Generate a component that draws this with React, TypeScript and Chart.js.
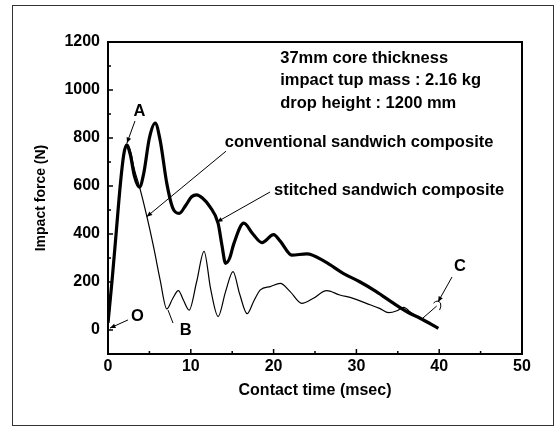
import React, { useEffect, useRef } from "react";
import { Chart, registerables } from "chart.js";

Chart.register(...registerables);

// ---- data ----
const xTickValues = [0, 10, 20, 30, 40, 50];
const xMinorTicks = [5, 15, 25, 35, 45];
const yTickValues = [0, 200, 400, 600, 800, 1000, 1200];
const yMinorTicks = [100, 300, 500, 700, 900, 1100];

const stitchedTime = [0, 0.5, 1.0, 1.5, 1.9, 2.25, 2.7, 3.2, 3.8, 4.3, 5.0, 5.7, 6.3, 7.1, 7.8, 8.6, 9.4, 10.1, 10.7, 11.4, 12.3, 13.3, 13.75, 14.2, 14.7, 15.2, 16.4, 17.5, 18.6, 20.0, 20.8, 22.2, 24.0, 26.2, 28.4, 30.4, 32.4, 34.5, 36.1, 37.7, 39.9];
const stitchedForce = [30, 210, 410, 610, 730, 771, 730, 640, 595, 650, 800, 862, 790, 611, 510, 486, 520, 555, 563, 550, 514, 444, 355, 278, 300, 360, 445, 400, 364, 397, 370, 312, 317, 285, 236, 201, 160, 111, 76, 49, 7];

const conventionalTime = [0, 0.5, 1.0, 1.5, 1.9, 2.35, 2.8, 3.1, 3.8, 4.7, 5.5, 6.3, 7.1, 7.8, 8.5, 9.1, 9.8, 10.7, 11.6, 12.4, 13.3, 14.2, 15.1, 15.9, 16.8, 17.6, 18.4, 19.6, 20.8, 22.0, 23.4, 24.8, 26.4, 28.0, 29.6, 31.2, 32.8, 33.9, 34.9, 35.7, 36.7, 37.7, 38.8];
const conventionalForce = [10, 200, 400, 600, 730, 771, 735, 681, 597, 472, 347, 208, 88, 130, 164, 125, 83, 200, 328, 170, 56, 160, 243, 150, 68, 120, 167, 181, 194, 160, 111, 132, 164, 146, 132, 111, 90, 72, 80, 94, 69, 49, 32];

const xTitle = "Contact time (msec)";
const yTitle = "Impact force (N)";
const infoLines = ["37mm core thickness", "impact tup mass : 2.16 kg", "drop height : 1200 mm"];

// ---- annotation layout (data coordinates) ----
const infoAnchor = { x: 20.8, y: 1133, step: 95 };
const textNotes = [
  { text: "conventional sandwich composite", x: 14.1, y: 783, align: "left" },
  { text: "stitched sandwich composite", x: 20.05, y: 583, align: "left" },
  { text: "A", x: 3.8, y: 912, align: "center" },
  { text: "O", x: 3.54, y: 55, align: "center" },
  { text: "B", x: 9.38, y: 0, align: "center" },
  { text: "C", x: 42.5, y: 264, align: "center" },
];
const arrowNotes = [
  { from: [14.25, 745], to: [4.67, 472], head: true },
  { from: [19.57, 575], to: [13.16, 450], head: true },
  { from: [3.26, 871], to: [2.29, 779], head: true },
  { from: [2.42, 42], to: [0.24, 8], head: true },
  { from: [7.85, 29], to: [7.25, 83], head: false },
  { from: [41.55, 221], to: [39.86, 117], head: true },
  { from: [39.7, 100], to: [38.04, 50], head: false },
];

const FONT = "'Liberation Sans', Arial, Helvetica, sans-serif";

function drawArrow(ctx: CanvasRenderingContext2D, x1: number, y1: number, x2: number, y2: number, head: boolean) {
  ctx.beginPath();
  ctx.moveTo(x1, y1);
  ctx.lineTo(x2, y2);
  ctx.stroke();
  if (head) {
    const ang = Math.atan2(y2 - y1, x2 - x1);
    const h = 6;
    ctx.beginPath();
    ctx.moveTo(x2, y2);
    ctx.lineTo(x2 - h * Math.cos(ang - 0.4), y2 - h * Math.sin(ang - 0.4));
    ctx.lineTo(x2 - h * Math.cos(ang + 0.4), y2 - h * Math.sin(ang + 0.4));
    ctx.closePath();
    ctx.fill();
  }
}

const decorPlugin = {
  id: "decor",
  afterDraw(chart: any) {
    const { ctx, chartArea: a, scales } = chart;
    const x = scales.x;
    const y = scales.y;
    const px = (v: number) => x.getPixelForValue(v);
    const py = (v: number) => y.getPixelForValue(v);
    ctx.save();
    // outer frame
    ctx.strokeStyle = "#333";
    ctx.lineWidth = 1;
    ctx.strokeRect(12.5, 5.5, 541, 420);
    // plot box
    ctx.strokeStyle = "#000";
    ctx.lineWidth = 2;
    ctx.strokeRect(a.left, a.top, a.right - a.left, a.bottom - a.top);
    // inward ticks
    ctx.lineWidth = 1.5;
    ctx.beginPath();
    for (const v of xTickValues) { ctx.moveTo(px(v), a.bottom); ctx.lineTo(px(v), a.bottom - 5); }
    for (const v of xMinorTicks) { ctx.moveTo(px(v), a.bottom); ctx.lineTo(px(v), a.bottom - 3); }
    for (const v of yTickValues) { ctx.moveTo(a.left, py(v)); ctx.lineTo(a.left + 5, py(v)); }
    for (const v of yMinorTicks) { ctx.moveTo(a.left, py(v)); ctx.lineTo(a.left + 3, py(v)); }
    ctx.stroke();
    // texts
    ctx.fillStyle = "#000";
    ctx.font = `bold 16.5px ${FONT}`;
    ctx.textBaseline = "middle";
    ctx.textAlign = "left";
    infoLines.forEach((t, i) => {
      ctx.fillText(t, px(infoAnchor.x), py(infoAnchor.y - i * infoAnchor.step));
    });
    for (const n of textNotes) {
      ctx.textAlign = n.align as CanvasTextAlign;
      ctx.fillText(n.text, px(n.x), py(n.y));
    }
    // arrows
    ctx.lineWidth = 1;
    ctx.strokeStyle = "#000";
    for (const ar of arrowNotes) {
      drawArrow(ctx, px(ar.from[0]), py(ar.from[1]), px(ar.to[0]), py(ar.to[1]), ar.head);
    }
    // small bracket near C
    const bx = px(39.8), by = py(108);
    ctx.beginPath();
    ctx.moveTo(bx - 4, by - 1);
    ctx.quadraticCurveTo(bx, by - 5, bx + 3, by - 1);
    ctx.quadraticCurveTo(bx + 4, by + 3, bx + 2, by + 6);
    ctx.stroke();
    ctx.restore();
  },
};

export default function App() {
  const canvasRef = useRef<HTMLCanvasElement | null>(null);

  useEffect(() => {
    if (!canvasRef.current) return;
    const stitched = stitchedTime.map((t, i) => ({ x: t, y: stitchedForce[i] }));
    const conventional = conventionalTime.map((t, i) => ({ x: t, y: conventionalForce[i] }));
    const chart = new Chart(canvasRef.current, {
      type: "line",
      data: {
        datasets: [
          {
            label: "stitched sandwich composite",
            data: stitched,
            borderColor: "#000",
            borderWidth: 3.2,
            pointRadius: 0,
            fill: false,
            cubicInterpolationMode: "monotone",
          },
          {
            label: "conventional sandwich composite",
            data: conventional,
            borderColor: "#000",
            borderWidth: 1.2,
            pointRadius: 0,
            fill: false,
            cubicInterpolationMode: "monotone",
          },
        ],
      },
      options: {
        animation: false,
        responsive: false,
        devicePixelRatio: 1,
        layout: { padding: { left: 0, right: 38, top: 42, bottom: 0 } },
        plugins: { legend: { display: false }, tooltip: { enabled: false } },
        scales: {
          x: {
            type: "linear",
            min: 0,
            max: 50,
            afterBuildTicks: (s: any) => { s.ticks = xTickValues.map((v) => ({ value: v })); },
            afterFit: (s: any) => { s.height = 73; },
            grid: { display: false, drawTicks: false },
            border: { display: false },
            ticks: { color: "#000", padding: 3, maxRotation: 0, autoSkip: false, callback: (v: any) => String(v), font: { family: FONT, size: 16, weight: "bold" } },
            title: { display: true, text: xTitle, color: "#000", font: { family: FONT, size: 16, weight: "bold" }, padding: { top: 0, bottom: 27 } },
          },
          y: {
            type: "linear",
            min: -100,
            max: 1200,
            afterBuildTicks: (s: any) => { s.ticks = yTickValues.map((v) => ({ value: v })); },
            afterFit: (s: any) => { s.width = 108; },
            grid: { display: false, drawTicks: false },
            border: { display: false },
            ticks: { color: "#000", padding: 8, autoSkip: false, callback: (v: any) => String(v), font: { family: FONT, size: 16, weight: "bold" } },
            title: { display: true, text: yTitle, color: "#000", font: { family: FONT, size: 14, weight: "bold" }, padding: { top: 33, bottom: 0 } },
          },
        },
      },
      plugins: [decorPlugin],
    } as any);
    return () => chart.destroy();
  }, []);

  return (
    <div style={{ position: "absolute", left: 0, top: 0, width: 560, height: 427, background: "#fff" }}>
      <canvas ref={canvasRef} width={560} height={427} style={{ display: "block" }} />
    </div>
  );
}
